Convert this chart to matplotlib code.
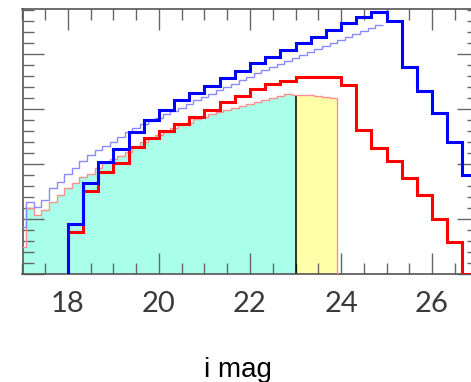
import numpy as np
import matplotlib
matplotlib.use('Agg')
import matplotlib.pyplot as plt
from matplotlib.ticker import MultipleLocator

# thick histograms: bins of 1/3 mag from i = 18
thick_start = 18.0
thick_width = 1 / 3
blue_thick = [0.91, 1.65, 2.04, 2.27, 2.58, 2.80, 2.98, 3.16, 3.29, 3.42,
              3.56, 3.69, 3.84, 3.95, 4.07, 4.20, 4.31, 4.44, 4.56, 4.67,
              4.76, 4.60, 3.76, 3.33, 2.93, 2.40, 1.80]
red_thick = [0.76, 1.51, 1.85, 2.02, 2.31, 2.47, 2.60, 2.73, 2.85, 2.98,
             3.13, 3.24, 3.36, 3.45, 3.51, 3.58, 3.58, 3.58, 3.44, 2.62,
             2.29, 2.05, 1.75, 1.44, 1.00, 0.58, 0.0]

# thin histograms: bins of 1/6 mag
thin_start = 17.0 - 1 / 12
thin_width = 1 / 6
blue_thin = [0.85, 1.31, 1.22, 1.35, 1.56, 1.67, 1.82, 1.93, 2.05, 2.16,
             2.25, 2.33, 2.40, 2.49, 2.58, 2.65, 2.73, 2.78, 2.84, 2.91,
             2.96, 3.02, 3.09, 3.16, 3.22, 3.27, 3.35, 3.40, 3.45, 3.53,
             3.58, 3.65, 3.71, 3.76, 3.82, 3.87, 3.93, 3.98, 4.04, 4.09,
             4.15, 4.20, 4.25, 4.31, 4.36, 4.42, 4.47, 4.53]
red_thin = [0.49, 1.20, 1.07, 1.16, 1.31, 1.44, 1.56, 1.65, 1.76, 1.82,
            1.93, 2.02, 2.09, 2.15, 2.22, 2.31, 2.40, 2.47, 2.53, 2.58,
            2.65, 2.71, 2.75, 2.82, 2.85, 2.91, 2.95, 2.98, 3.02, 3.05,
            3.09, 3.13, 3.16, 3.20, 3.24, 3.27, 3.25, 3.25, 3.25, 3.24,
            3.22, 3.20]

mag_lim = 23.0
xticks = [18, 20, 22, 24, 26]

e_thick = thick_start + np.arange(len(blue_thick) + 1) * thick_width
e_bthin = thin_start + np.arange(len(blue_thin) + 1) * thin_width
e_rthin = thin_start + np.arange(len(red_thin) + 1) * thin_width

fig = plt.figure(figsize=(4.71, 3.82), dpi=100)
ax = fig.add_axes([22.5 / 471, 108 / 382, 455 / 471, 265 / 382])

# shaded areas under the thin red histogram, split at the magnitude limit
ax.stairs(red_thin, np.clip(e_rthin, None, mag_lim), fill=True,
          color='#aaffeb', lw=0, zorder=1)
ax.stairs(red_thin, np.clip(e_rthin, mag_lim, None), fill=True,
          color='#ffffaa', lw=0, zorder=1)
k = np.searchsorted(e_rthin, mag_lim) - 1
ax.vlines(mag_lim, 0, red_thin[k], color='black', lw=1.1, zorder=2)

ax.stairs(red_thin, e_rthin, color='#ff8f8f', lw=1.0, zorder=3)
ax.stairs(blue_thin, e_bthin, baseline=None, color='#8a8aff', lw=1.0, zorder=3)
ax.stairs(red_thick, e_thick, color='#ff0000', lw=2.2, zorder=4)
ax.stairs(blue_thick, e_thick, color='#0000ff', lw=2.2, zorder=5)

ax.set_xlim(17, 27)
ax.set_ylim(0, 265 / 55)
ax.set_xticks(xticks)
ax.xaxis.set_minor_locator(MultipleLocator(0.5))
ax.yaxis.set_major_locator(MultipleLocator(1))
ax.yaxis.set_minor_locator(MultipleLocator(0.2))
ax.tick_params(which='both', direction='in', top=True, right=True,
               color='#666666', width=1.0, labelleft=False, pad=12)
ax.tick_params(which='major', length=15)
ax.tick_params(which='minor', length=8)
for lab in ax.get_xticklabels():
    lab.set_family(['Lato', 'DejaVu Sans'])
    lab.set_fontweight('normal')
    lab.set_fontsize(21)
    lab.set_color('#3a3a3a')
for s in ax.spines.values():
    s.set_color('#555555')
    s.set_linewidth(1.2)

fig.text(237.5 / 471, 5.3 / 382, 'i mag', ha='center', va='baseline',
         fontsize=20, family='Liberation Sans', color='black')

fig.savefig('out.png', dpi=100)
